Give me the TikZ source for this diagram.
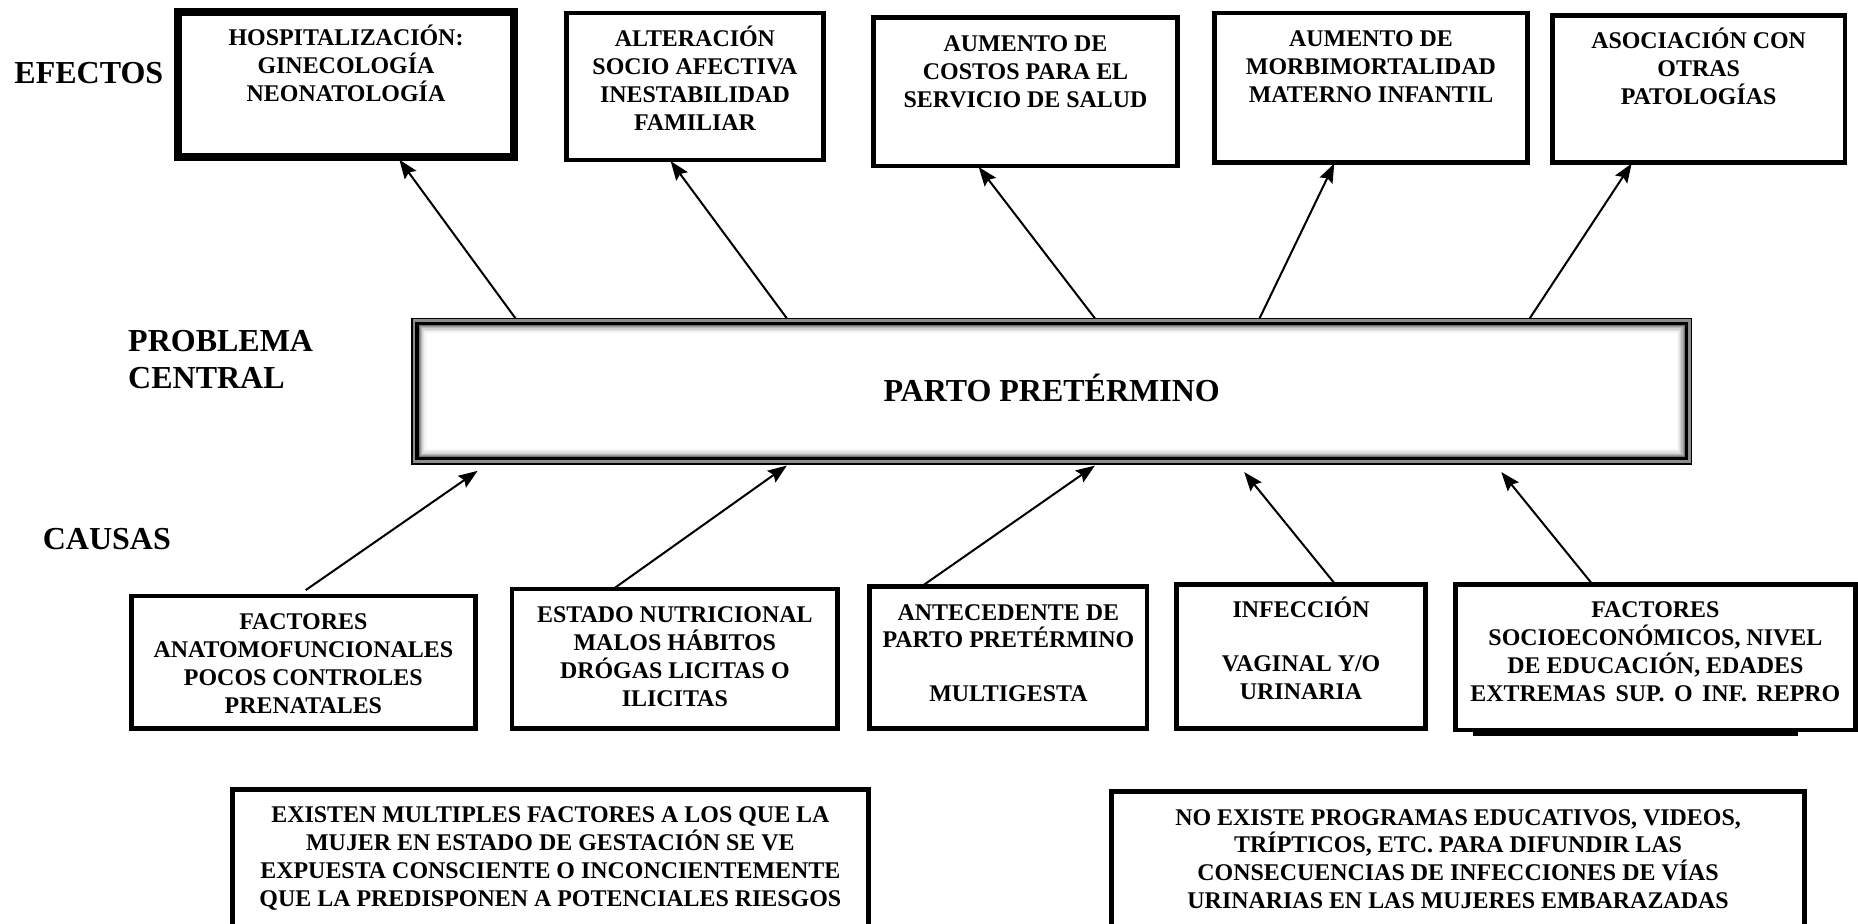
\documentclass[tikz,border=0pt]{standalone}
\usepackage{fontspec}
\setmainfont{Liberation Serif}
\usetikzlibrary{arrows.meta}
\newcommand\bxt[3]{\parbox[c][#2][t]{#1}{\centering\leftskip=-30pt plus 1fil\rightskip=-30pt plus 1fil\fontsize{20.2}{23.5}\selectfont\bfseries\rule{0pt}{28.3pt}#3\par}}
\tikzset{
  box/.style={draw=black, line width=4pt, inner sep=0pt, outer sep=0pt, fill=white},
  arr/.style={-{Stealth[length=16pt,width=12pt,inset=2.5pt]}, line width=1.7pt, black},
  lbl/.style={font=\fontsize{27}{31}\selectfont\bfseries, align=left, inner sep=0pt, anchor=west},
  central/.style={draw=black, line width=1.2pt, fill=black!45, inner sep=0pt, outer sep=0pt,
    minimum width=1079.8pt, minimum height=122.8pt, text height=18pt, text depth=0pt,
    font=\fontsize{27}{31}\selectfont\bfseries,
    path picture={
      \fill[white] ([shift={(5.5pt,-5.5pt)}]path picture bounding box.north west) rectangle ([shift={(-5.5pt,5.5pt)}]path picture bounding box.south east);
      \foreach \d/\c in {6/55,7/40,8/28,9/18,10/11,11/6,12/3}
        \draw[black!\c, line width=1.05pt] ([shift={(\d pt,-\d pt)}]path picture bounding box.north west) rectangle ([shift={(-\d pt,\d pt)}]path picture bounding box.south east);
      \draw[black, line width=2.6pt] ([shift={(4.3pt,-4.3pt)}]path picture bounding box.north west) rectangle ([shift={(-4.3pt,4.3pt)}]path picture bounding box.south east);
    }},
}
\begin{document}
\begin{tikzpicture}[x=1pt,y=1pt]
\path[fill=white, use as bounding box] (0,0) rectangle (1568,-779);

% labels
\node[lbl] (lef) at (12,-62) {EFECTOS};
\node[lbl] (lpc) at (108,-303.5) {PROBLEMA\\CENTRAL};
\node[lbl] (lca) at (36,-455) {CAUSAS};

% effects
\node[box, line width=6.5pt] (E1) at (292,-71.5) {\bxt{283.5pt}{122.5pt}{HOSPITALIZACIÓN:\\GINECOLOGÍA\\NEONATOLOGÍA}};
\node[box] (E2) at (586.5,-73) {\bxt{217pt}{124pt}{ALTERACIÓN\\SOCIO AFECTIVA\\INESTABILIDAD\\FAMILIAR}};
\node[box] (E3) at (865.5,-77.5) {\bxt{257pt}{125pt}{AUMENTO DE\\COSTOS PARA EL\\SERVICIO DE SALUD}};
\node[box] (E4) at (1157,-74) {\bxt{264pt}{126pt}{AUMENTO DE\\MORBIMORTALIDAD\\MATERNO INFANTIL}};
\node[box] (E5) at (1433.5,-75) {\bxt{247pt}{124pt}{ASOCIACIÓN CON\\OTRAS\\PATOLOGÍAS}};

% central problem
\node[central] (c) at (887.5,-330) {PARTO PRETÉRMINO};

% causes
\node[box] (C1) at (256,-559) {\bxt{290pt}{112pt}{FACTORES\\ANATOMOFUNCIONALES\\POCOS CONTROLES\\PRENATALES}};
\node[box] (C2) at (569.5,-556) {\bxt{275pt}{118pt}{ESTADO NUTRICIONAL\\MALOS HÁBITOS\\DRÓGAS LICITAS O\\ILICITAS}};
\node[box] (C3) at (851,-555) {\bxt{234pt}{120pt}{ANTECEDENTE DE\\PARTO PRETÉRMINO\\[22pt]MULTIGESTA}};
\node[box] (C4) at (1098,-554) {\bxt{210pt}{122pt}{INFECCIÓN\\[22pt]VAGINAL Y/O\\URINARIA}};
\node[box] (C5) at (1397,-554.5) {\bxt{338pt}{123pt}{FACTORES\\SOCIOECONÓMICOS, NIVEL\\DE EDUCACIÓN, EDADES\\{\spaceskip=8pt plus 1pt EXTREMAS SUP. O INF. REPRO}}};
\draw[line width=3.5pt] ([xshift=-154pt,yshift=-3.5pt]C5.south) -- ([xshift=120pt,yshift=-3.5pt]C5.south);

% bottom notes
\node[box, anchor=north] (B1) at (464.5,-666) {\bxt{537pt}{130pt}{EXISTEN MULTIPLES FACTORES A LOS QUE LA\\MUJER EN ESTADO DE GESTACIÓN SE VE\\EXPUESTA CONSCIENTE O INCONCIENTEMENTE\\QUE LA PREDISPONEN A POTENCIALES RIESGOS}};
\node[box, anchor=north] (B2) at (1230.5,-668) {\bxt{585pt}{130pt}{NO EXISTE PROGRAMAS EDUCATIVOS, VIDEOS,\\TRÍPTICOS, ETC. PARA DIFUNDIR LAS\\CONSECUENCIAS DE INFECCIONES DE VÍAS\\URINARIAS EN LAS MUJERES EMBARAZADAS}};

% effect arrows
\draw[arr] ([xshift=-452.5pt]c.north) -- ([xshift=45pt,yshift=-2pt]E1.south);
\draw[arr] ([xshift=-223.5pt]c.north) -- ([xshift=-20.5pt,yshift=-1pt]E2.south);
\draw[arr] ([xshift=36.5pt]c.north) -- ([xshift=-39.5pt,yshift=-1pt]E3.south);
\draw[arr] ([xshift=175.5pt]c.north) -- ([xshift=-31pt,yshift=-1pt]E4.south);
\draw[arr] ([xshift=403.5pt]c.north) -- ([xshift=-56.5pt,yshift=-1pt]E5.south);

% cause arrows
\draw[arr] ([xshift=2pt,yshift=5pt]C1.north) -- ([xshift=-484.5pt,yshift=-6pt]c.south);
\draw[arr] ([xshift=-50.5pt,yshift=1pt]C2.north) -- ([xshift=-223.5pt,yshift=-1.5pt]c.south);
\draw[arr] ([xshift=-72pt,yshift=1pt]C3.north) -- ([xshift=36.5pt,yshift=-1.5pt]c.south);
\draw[arr] ([xshift=28pt,yshift=1pt]C4.north) -- ([xshift=162.5pt,yshift=-7pt]c.south);
\draw[arr] ([xshift=-54pt,yshift=1pt]C5.north) -- ([xshift=379.5pt,yshift=-7pt]c.south);
\end{tikzpicture}
\end{document}
